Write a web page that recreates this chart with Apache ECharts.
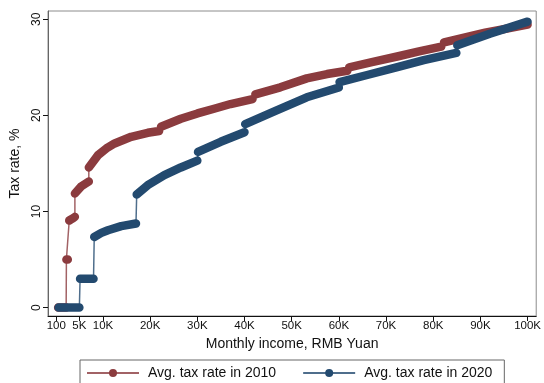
<!DOCTYPE html>
<html>
<head>
<meta charset="utf-8">
<script src="https://cdn.jsdelivr.net/npm/echarts@6/dist/echarts.min.js"></script>
<style>html,body{margin:0;padding:0;background:#fff;}#c{width:544px;height:383px;}</style>
</head>
<body>
<div id="c"></div>
<script>
// ---- data ----
const seriesNames = ['Avg. tax rate in 2010', 'Avg. tax rate in 2020'];
// each inner array is one continuous bracket segment
const income2010 = [
  [500, 2200],
  [2250, 2550],
  [2850, 3500, 4050],
  [4050, 5440, 7000],
  [7000, 8960, 10710, 12470, 15980, 19490, 21900],
  [22300, 26510, 30030, 33550, 37050, 41700],
  [42300, 47600, 53200, 57500, 61800],
  [62200, 67000, 72600, 77000, 81700],
  [82300, 91000, 100000]
];
const rate2010 = [
  [0, 0],
  [5.0, 5.0],
  [9.06, 9.25, 9.44],
  [11.87, 12.63, 13.12],
  [14.58, 15.86, 16.56, 17.08, 17.77, 18.19, 18.38],
  [18.81, 19.65, 20.2, 20.69, 21.18, 21.7],
  [22.19, 22.92, 23.85, 24.3, 24.65],
  [25.0, 25.55, 26.15, 26.65, 27.15],
  [27.6, 28.6, 29.45]
];
const income2020 = [
  [600, 5000],
  [5150, 8000],
  [8150, 9650, 11060, 13870, 17000],
  [17150, 19490, 23010, 26510, 30000],
  [30150, 34940, 40000],
  [40150, 46200, 53200, 60000],
  [60150, 66000, 72600, 78000, 84900],
  [85100, 92000, 100000]
];
const rate2020 = [
  [0, 0],
  [3.0, 3.0],
  [7.35, 7.77, 8.05, 8.47, 8.75],
  [11.77, 12.74, 13.78, 14.58, 15.3],
  [16.2, 17.25, 18.25],
  [19.09, 20.38, 21.88, 22.9],
  [23.45, 24.2, 25.05, 25.75, 26.5],
  [27.3, 28.5, 29.75]
];
const xTicks = [100, 5000, 10000, 20000, 30000, 40000, 50000, 60000, 70000, 80000, 90000, 100000];
const xTickLabels = ['100', '5K', '10K', '20K', '30K', '40K', '50K', '60K', '70K', '80K', '90K', '100K'];
const yTicks = [0, 10, 20, 30];

// ---- build ----
const colors = ['#8b3b3e', '#234a6f'];
const FONT = '"Liberation Sans", Arial, Helvetica, sans-serif';

function thinData(inc, rate) {
  const out = [];
  inc.forEach((seg, i) => seg.forEach((x, j) => out.push([x, rate[i][j]])));
  return out;
}
function thickData(inc, rate) {
  const out = [];
  inc.forEach((seg, i) => {
    if (i > 0) out.push([seg[0], '-']);
    seg.forEach((x, j) => out.push([x, rate[i][j]]));
  });
  return out;
}
function mk(name, color, inc, rate) {
  return [
    {
      name: name, type: 'line', data: thinData(inc, rate),
      symbol: 'circle', symbolSize: 9, showSymbol: false,
      itemStyle: { color: color },
      lineStyle: { color: color, width: 1.5, opacity: 0.8 },
      silent: true
    },
    {
      name: name + ' (pts)', type: 'line', data: thickData(inc, rate),
      symbol: 'none', connectNulls: false,
      lineStyle: { color: color, width: 8.5, cap: 'round', join: 'round' },
      silent: true
    }
  ];
}

const chart = echarts.init(document.getElementById('c'), null, { renderer: 'canvas' });
chart.setOption({
  animation: false,
  backgroundColor: '#fff',
  textStyle: { fontFamily: FONT },
  grid: { left: 48, top: 11, width: 491, height: 305, show: true, borderColor: '#8c8c8c', borderWidth: 1 },
  legend: {
    data: seriesNames,
    left: 80, top: 360,
    orient: 'horizontal',
    itemWidth: 52, itemHeight: 10, itemGap: 26,
    padding: [6, 12, 10, 6],
    borderColor: '#666', borderWidth: 1,
    textStyle: { fontSize: 14, color: '#111', fontFamily: FONT, padding: [0, 0, 0, 4] }
  },
  xAxis: {
    type: 'value', min: -1650, max: 101830,
    name: 'Monthly income, RMB Yuan', nameLocation: 'middle', nameGap: 21,
    nameTextStyle: { fontSize: 14, color: '#111', fontFamily: FONT },
    axisLine: { show: true, onZero: false, lineStyle: { color: '#111', width: 1 } },
    axisTick: { show: true, length: 5, customValues: xTicks, lineStyle: { color: '#111' } },
    axisLabel: {
      customValues: xTicks, fontSize: 11.5, color: '#111', margin: 4, fontFamily: FONT,
      formatter: v => xTickLabels[xTicks.indexOf(v)]
    },
    splitLine: { show: false }
  },
  yAxis: {
    type: 'value', min: -0.875, max: 30.86,
    name: 'Tax rate, %', nameLocation: 'middle', nameGap: 26, nameRotate: 90,
    nameTextStyle: { fontSize: 14, color: '#111', fontFamily: FONT },
    axisLine: { show: true, onZero: false, lineStyle: { color: '#666', width: 1 } },
    axisTick: { show: true, length: 5, customValues: yTicks, lineStyle: { color: '#111' } },
    axisLabel: { customValues: yTicks, rotate: 90, fontSize: 12, color: '#111', margin: 5, fontFamily: FONT },
    splitLine: { show: false }
  },
  series: [].concat(
    mk(seriesNames[0], colors[0], income2010, rate2010),
    mk(seriesNames[1], colors[1], income2020, rate2020)
  )
});
</script>
</body>
</html>
